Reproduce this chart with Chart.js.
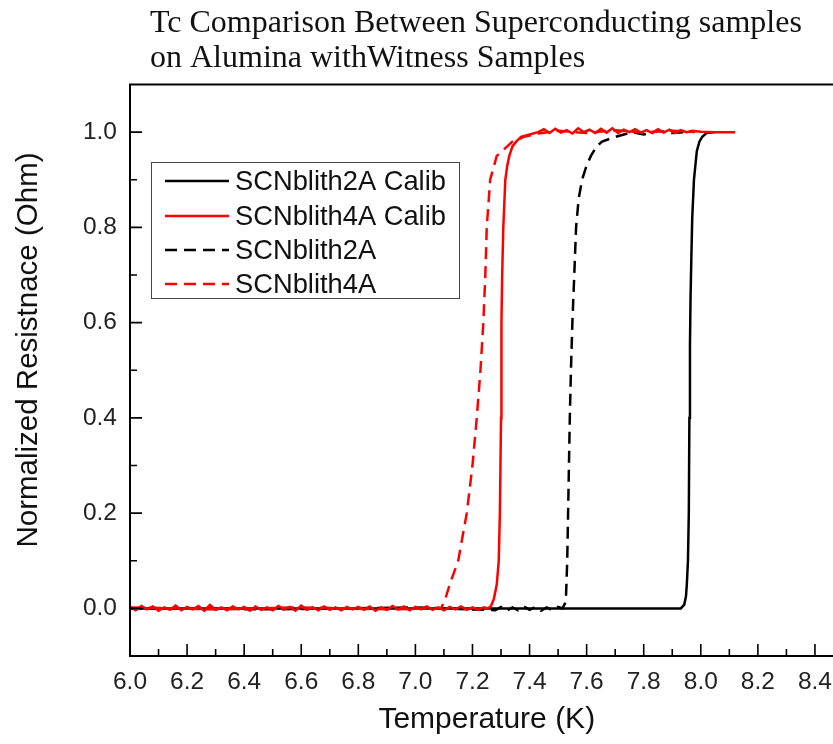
<!DOCTYPE html>
<html><head><meta charset="utf-8">
<script src="https://cdn.jsdelivr.net/npm/chart.js@4.4.1/dist/chart.umd.min.js"></script>
<style>
html,body{margin:0;padding:0;background:#fff;overflow:hidden;width:833px;height:744px}
#wrap{position:absolute;left:0;top:0;width:860px;height:744px}
</style></head><body>
<div id="wrap"><canvas id="c" width="860" height="744"></canvas></div>
<script>
// ---- data ----
const titleLines = ['Tc Comparison Between Superconducting samples', 'on Alumina withWitness Samples'];
const xTitle = 'Temperature (K)';
const yTitle = 'Normalized Resistnace (Ohm)';
const seriesNames = ['SCNblith2A Calib', 'SCNblith4A Calib', 'SCNblith2A', 'SCNblith4A'];

const xMajorTicks = [6.0, 6.2, 6.4, 6.6, 6.8, 7.0, 7.2, 7.4, 7.6, 7.8, 8.0, 8.2, 8.4];
const xMinorTicks = [6.1, 6.3, 6.5, 6.7, 6.9, 7.1, 7.3, 7.5, 7.7, 7.9, 8.1, 8.3, 8.5];
const yMajorTicks = [0.0, 0.2, 0.4, 0.6, 0.8, 1.0];
const yMinorTicks = [0.1, 0.3, 0.5, 0.7, 0.9];

// SCNblith2A Calib (black solid)
const calib2A_T = [6.00, 7.00, 7.93, 7.942, 7.948, 7.951, 7.955, 7.958, 7.960, 7.962, 7.964, 7.967, 7.970, 7.976, 7.986, 7.995, 8.005, 8.02, 8.05];
const calib2A_R = [0.000, 0.000, 0.000, 0.008, 0.025, 0.05, 0.10, 0.20, 0.40, 0.55, 0.65, 0.74, 0.82, 0.90, 0.96, 0.98, 0.99, 0.998, 1.000];

// SCNblith4A Calib (red solid)
const calib4A_T = [6.00, 6.02, 6.04, 6.06, 6.08, 6.10, 6.12, 6.14, 6.16, 6.18, 6.20, 6.22, 6.24, 6.26, 6.28, 6.30, 6.32, 6.34, 6.36, 6.38,
  6.40, 6.42, 6.44, 6.46, 6.48, 6.50, 6.52, 6.54, 6.56, 6.58, 6.60, 6.62, 6.64, 6.66, 6.68, 6.70, 6.72, 6.74, 6.76, 6.78,
  6.80, 6.82, 6.84, 6.86, 6.88, 6.90, 6.92, 6.94, 6.96, 6.98, 7.00, 7.02, 7.04, 7.06, 7.08, 7.10, 7.12, 7.14, 7.16, 7.18,
  7.20, 7.22, 7.24, 7.255,
  7.265, 7.275, 7.285, 7.292, 7.296, 7.298, 7.300, 7.301, 7.302, 7.304, 7.308, 7.315, 7.322, 7.329, 7.34, 7.353, 7.37, 7.40,
  7.43, 7.45, 7.47, 7.49, 7.51, 7.53, 7.55, 7.57, 7.59, 7.61, 7.63, 7.65, 7.67, 7.69, 7.71, 7.73, 7.75, 7.77, 7.79, 7.81,
  7.83, 7.85, 7.87, 7.89, 7.91, 7.93, 7.95, 7.97, 8.00, 8.05, 8.12];
const calib4A_R = [0.003, -0.004, 0.005, -0.002, 0.004, -0.005, 0.002, -0.003, 0.006, -0.004, 0.003, -0.002, 0.005, -0.005, 0.007, -0.003, 0.002, -0.004, 0.004, -0.002,
  0.003, -0.005, 0.004, -0.003, 0.002, -0.004, 0.005, -0.002, 0.003, -0.005, 0.006, -0.003, 0.002, -0.004, 0.004, -0.003, 0.002, -0.004, 0.003, -0.002,
  0.003, -0.003, 0.004, -0.005, 0.002, -0.003, 0.005, -0.002, 0.004, -0.004, 0.003, -0.002, 0.004, -0.003, 0.002, -0.004, 0.003, -0.002, 0.004, -0.003,
  0.002, -0.003, 0.002, 0.000,
  0.005, 0.02, 0.05, 0.10, 0.20, 0.30, 0.40, 0.50, 0.60, 0.70, 0.80, 0.90, 0.93, 0.95, 0.97, 0.98, 0.99, 0.995,
  1.000, 1.006, 0.998, 1.007, 0.999, 1.004, 0.997, 1.008, 1.000, 1.005, 0.998, 1.007, 0.999, 1.008, 0.998, 1.005, 1.000, 1.006, 0.999, 1.004,
  0.998, 1.006, 0.999, 1.005, 0.998, 1.004, 1.000, 1.003, 1.001, 1.000, 1.000];

// SCNblith2A (black dashed)
const wit2A_T = [6.00, 6.50, 7.00, 7.28, 7.30, 7.32, 7.34, 7.36, 7.38, 7.40, 7.42, 7.44, 7.46, 7.48, 7.50, 7.515, 7.524, 7.528, 7.532, 7.535,
  7.538, 7.541, 7.545, 7.550, 7.556, 7.563, 7.572, 7.584, 7.600, 7.615, 7.635, 7.654, 7.70, 7.76, 7.80, 7.85, 7.90, 7.95];
const wit2A_R = [0.000, -0.002, 0.002, -0.004, 0.003, -0.005, 0.002, -0.004, 0.004, -0.003, 0.003, -0.005, 0.002, -0.004, 0.003, 0.000, 0.01, 0.03, 0.10, 0.20,
  0.30, 0.40, 0.50, 0.60, 0.69, 0.80, 0.86, 0.90, 0.93, 0.95, 0.97, 0.98, 0.99, 1.000, 0.995, 1.003, 0.998, 1.000];

// SCNblith4A (red dashed)
const wit4A_T = [6.00, 6.30, 6.60, 6.90, 7.09, 7.105, 7.12, 7.15, 7.18, 7.20, 7.215, 7.228, 7.238, 7.245, 7.25, 7.262, 7.285, 7.34, 7.38, 7.43,
  7.50, 7.60, 7.70, 7.80, 7.90, 7.98];
const wit4A_R = [0.002, -0.002, 0.002, -0.002, 0.000, 0.02, 0.05, 0.10, 0.20, 0.30, 0.40, 0.50, 0.60, 0.70, 0.80, 0.90, 0.95, 0.98, 0.99, 0.997,
  1.003, 0.998, 1.004, 0.999, 1.003, 1.000];

const toPts = (xs, ys) => xs.map((x, i) => ({x: x, y: ys[i]}));

// ---- plugins ----
const SANS = '"Liberation Sans", Arial, sans-serif';
const SERIF = '"Liberation Serif", "Times New Roman", serif';

const decor = {
  id: 'decor',
  afterDraw(chart) {
    const ctx = chart.ctx;
    const a = chart.chartArea;
    const xs = chart.scales.x, ys = chart.scales.y;
    ctx.save();
    // frame
    ctx.strokeStyle = '#000';
    ctx.lineWidth = 2;
    ctx.strokeRect(a.left, a.top, a.right - a.left, a.bottom - a.top);
    // inward ticks
    ctx.lineWidth = 1.6;
    ctx.beginPath();
    xMajorTicks.forEach(v => { const p = xs.getPixelForValue(v); ctx.moveTo(p, a.bottom); ctx.lineTo(p, a.bottom - 12); });
    xMinorTicks.forEach(v => { const p = xs.getPixelForValue(v); ctx.moveTo(p, a.bottom); ctx.lineTo(p, a.bottom - 7); });
    yMajorTicks.forEach(v => { const p = ys.getPixelForValue(v); ctx.moveTo(a.left, p); ctx.lineTo(a.left + 12, p); });
    yMinorTicks.forEach(v => { const p = ys.getPixelForValue(v); ctx.moveTo(a.left, p); ctx.lineTo(a.left + 7, p); });
    ctx.stroke();

    // title
    ctx.fillStyle = '#111';
    ctx.font = '32px ' + SERIF;
    ctx.textAlign = 'left';
    ctx.textBaseline = 'alphabetic';
    ctx.fillText(titleLines[0], 150, 32);
    ctx.fillText(titleLines[1], 150, 67);

    // y title
    ctx.save();
    ctx.translate(29, 350);
    ctx.rotate(-Math.PI / 2);
    ctx.font = '29.5px ' + SANS;
    ctx.textAlign = 'center';
    ctx.textBaseline = 'middle';
    ctx.fillStyle = '#111';
    ctx.fillText(yTitle, 0, 0);
    ctx.restore();

    // legend
    const bx = 151, by = 162, bw = 308, bh = 136;
    ctx.fillStyle = '#fff';
    ctx.fillRect(bx, by, bw, bh);
    ctx.strokeStyle = '#444';
    ctx.lineWidth = 1;
    ctx.strokeRect(bx + 0.5, by + 0.5, bw, bh);
    const rows = [181, 216, 250, 284];
    chart.data.datasets.forEach((ds, i) => {
      const y = rows[i];
      ctx.save();
      ctx.strokeStyle = ds.borderColor;
      ctx.lineWidth = 2.5;
      ctx.setLineDash(ds.borderDash || []);
      ctx.beginPath();
      ctx.moveTo(165, y);
      ctx.lineTo(229, y);
      ctx.stroke();
      ctx.restore();
      ctx.fillStyle = '#111';
      ctx.font = '27.3px ' + SANS;
      ctx.textAlign = 'left';
      ctx.textBaseline = 'middle';
      ctx.fillText(ds.label, 235, y + 1);
    });
    ctx.restore();
  }
};

const datasets = [
  {label: seriesNames[0], data: toPts(calib2A_T, calib2A_R), borderColor: '#000000', borderWidth: 2.5, order: 3},
  {label: seriesNames[1], data: toPts(calib4A_T, calib4A_R), borderColor: '#ff0000', borderWidth: 2.5, order: 1},
  {label: seriesNames[2], data: toPts(wit2A_T, wit2A_R), borderColor: '#000000', borderWidth: 2.5, borderDash: [12, 7], order: 2},
  {label: seriesNames[3], data: toPts(wit4A_T, wit4A_R), borderColor: '#ff0000', borderWidth: 2.5, borderDash: [12, 7], order: 0}
].map(d => Object.assign(d, {pointRadius: 0, tension: 0, fill: false, showLine: true}));

new Chart(document.getElementById('c'), {
  type: 'scatter',
  data: {datasets: datasets},
  options: {
    responsive: false,
    animation: false,
    devicePixelRatio: 1,
    layout: {padding: {top: 84.5, right: 16.5, left: 0, bottom: 0}},
    plugins: {legend: {display: false}, title: {display: false}, tooltip: {enabled: false}},
    scales: {
      x: {
        type: 'linear', min: 6.0, max: 8.5,
        afterBuildTicks: s => { s.ticks = xMajorTicks.map(v => ({value: v})); },
        afterFit: s => { s.height = 88; },
        grid: {display: false, drawTicks: false},
        border: {display: true, color: '#000', width: 2},
        ticks: {color: '#222', padding: 12, maxRotation: 0, autoSkip: false, font: {family: SANS, size: 24.5}, callback: v => Number(v).toFixed(1)},
        title: {display: true, text: xTitle, color: '#111', font: {family: SANS, size: 30}, padding: {top: 0, bottom: 6}}
      },
      y: {
        type: 'linear', min: -0.1, max: 1.1,
        afterBuildTicks: s => { s.ticks = yMajorTicks.map(v => ({value: v})); },
        afterFit: s => { s.width = 130; },
        grid: {display: false, drawTicks: false},
        border: {display: true, color: '#000', width: 2},
        ticks: {color: '#222', padding: 13, autoSkip: false, font: {family: SANS, size: 24.5}, callback: v => Number(v).toFixed(1)}
      }
    }
  },
  plugins: [decor]
});
</script>
</body></html>
